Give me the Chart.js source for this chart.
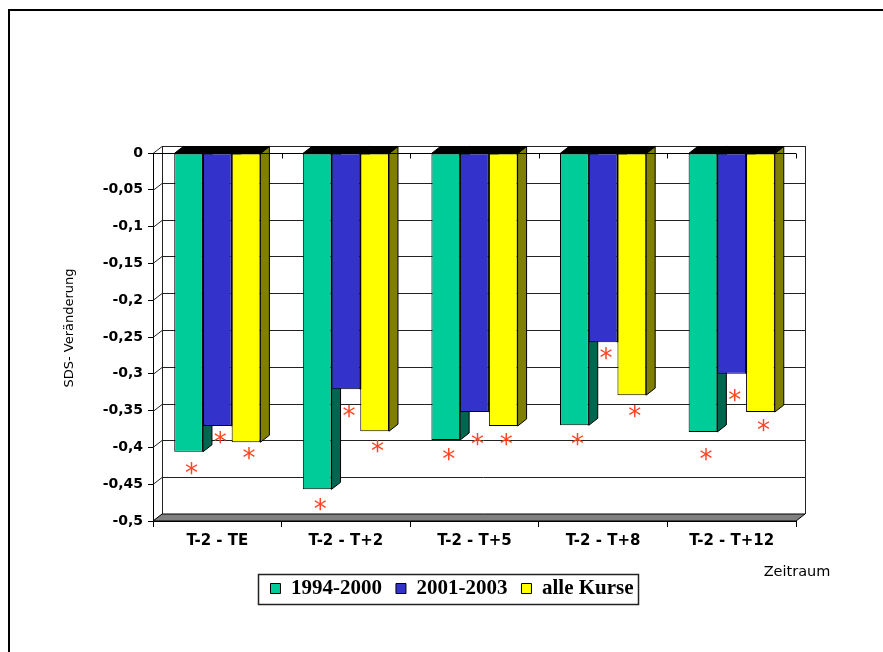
<!DOCTYPE html>
<html>
<head>
<meta charset="utf-8">
<title>SDS-Veränderung</title>
<script src="https://cdn.jsdelivr.net/npm/chart.js@4.4.1/dist/chart.umd.min.js"></script>
<style>
  html, body { margin: 0; padding: 0; background: #fff; }
  canvas { display: block; }
</style>
</head>
<body>
<canvas id="sdsChart" width="883" height="652"></canvas>
<script>
// categories and series
const categories = ['T-2 - TE', 'T-2 - T+2', 'T-2 - T+5', 'T-2 - T+8', 'T-2 - T+12'];
const seriesNames = ['1994-2000', '2001-2003', 'alle Kurse'];
const values1994 = [-0.406, -0.457, -0.390, -0.370, -0.379];
const values2001 = [-0.371, -0.321, -0.352, -0.257, -0.300];
const valuesAll = [-0.393, -0.378, -0.371, -0.329, -0.352];
// where the significance stars (*) sit, in axis units
const stars1994 = [-0.428, -0.477, -0.409, -0.389, -0.409];
const stars2001 = [-0.387, -0.351, -0.389, -0.272, -0.330];
const starsAll = [-0.408, -0.399, -0.389, -0.351, -0.370];

const frontColors = ['#00CC99', '#3333CC', '#FFFF00'];
const sideColors = ['#006650', '#1a1a66', '#808000'];
const DX = 9, DY = 7; // depth of the 3d look

// Function to format tick values the German way
function fmt(v) {
    return String(Math.round(v * 100) / 100).replace('.', ',');
}

// Plugin that draws walls, floor and the 3d faces of the bars
const threeD = {
    id: 'threeD',
    beforeDatasetsDraw(chart) {
        const ctx = chart.ctx;
        const y = chart.scales.y;
        const a = chart.chartArea;
        ctx.save();
        ctx.lineWidth = 1;
        ctx.strokeStyle = '#222';
        // back wall grid lines and left wall diagonals
        y.ticks.forEach(t => {
            const py = Math.round(y.getPixelForValue(t.value)) + 0.5;
            ctx.beginPath();
            ctx.moveTo(a.left, py);
            ctx.lineTo(a.left + DX, py - DY);
            ctx.lineTo(a.right + DX, py - DY);
            ctx.stroke();
        });
        // back wall edges
        ctx.beginPath();
        ctx.moveTo(a.left + DX + 0.5, a.top - DY);
        ctx.lineTo(a.left + DX + 0.5, a.bottom - DY);
        ctx.moveTo(a.right + DX + 0.5, a.top - DY);
        ctx.lineTo(a.right + DX + 0.5, a.bottom - DY);
        ctx.stroke();
        // floor
        ctx.beginPath();
        ctx.moveTo(a.left, a.bottom);
        ctx.lineTo(a.left + DX, a.bottom - DY);
        ctx.lineTo(a.right + DX, a.bottom - DY);
        ctx.lineTo(a.right, a.bottom);
        ctx.closePath();
        ctx.fillStyle = '#808080';
        ctx.fill();
        ctx.strokeStyle = '#000';
        ctx.stroke();
        // side and top faces of every bar
        chart.data.datasets.forEach((ds, di) => {
            chart.getDatasetMeta(di).data.forEach(bar => {
                const p = bar.getProps(['x', 'y', 'base', 'width']);
                const left = p.x - p.width / 2, right = p.x + p.width / 2;
                const top = Math.min(p.y, p.base), bottom = Math.max(p.y, p.base);
                ctx.beginPath();
                ctx.moveTo(right, top);
                ctx.lineTo(right + DX, top - DY);
                ctx.lineTo(right + DX, bottom - DY);
                ctx.lineTo(right, bottom);
                ctx.closePath();
                ctx.fillStyle = sideColors[di];
                ctx.fill();
                ctx.stroke();
                ctx.beginPath();
                ctx.moveTo(left, top);
                ctx.lineTo(left + DX, top - DY);
                ctx.lineTo(right + DX, top - DY);
                ctx.lineTo(right, top);
                ctx.closePath();
                ctx.fillStyle = '#000';
                ctx.fill();
                ctx.stroke();
            });
        });
        ctx.restore();
    },
    afterDatasetsDraw(chart) {
        const ctx = chart.ctx;
        const y = chart.scales.y;
        const a = chart.chartArea;
        ctx.save();
        // category axis line at zero with its little ticks
        const y0 = Math.round(y.getPixelForValue(0)) + 0.5;
        ctx.strokeStyle = '#000';
        ctx.lineWidth = 1;
        ctx.beginPath();
        ctx.moveTo(a.left, y0);
        ctx.lineTo(a.right, y0);
        for (let i = 0; i <= categories.length; i++) {
            const px = Math.round(a.left + i * (a.right - a.left) / categories.length) + 0.5;
            ctx.moveTo(px, y0);
            ctx.lineTo(px, y0 + 5);
        }
        ctx.stroke();
        // stars
        const stars = [stars1994, stars2001, starsAll];
        ctx.fillStyle = '#ff4422';
        ctx.font = '26px "DejaVu Sans"';
        ctx.textAlign = 'center';
        ctx.textBaseline = 'alphabetic';
        const m = ctx.measureText('*');
        const mid = (m.actualBoundingBoxAscent - m.actualBoundingBoxDescent) / 2;
        stars.forEach((list, di) => {
            const meta = chart.getDatasetMeta(di);
            list.forEach((v, i) => {
                const bar = meta.data[i];
                ctx.fillText('*', bar.x + 3, y.getPixelForValue(v) + mid);
            });
        });
        ctx.restore();
    },
    afterDraw(chart) {
        const ctx = chart.ctx;
        ctx.save();
        // outer frame
        ctx.strokeStyle = '#000';
        ctx.lineWidth = 2;
        ctx.beginPath();
        ctx.moveTo(9, 652);
        ctx.lineTo(9, 10);
        ctx.lineTo(883, 10);
        ctx.stroke();
        // legend frame
        const hb = chart.legend.legendHitBoxes;
        if (hb && hb.length) {
            const last = hb[hb.length - 1];
            const l = hb[0].left - 12, r = last.left + last.width + 5;
            const t = hb[0].top - 4;
            ctx.lineWidth = 1.5;
            ctx.strokeStyle = '#222';
            ctx.strokeRect(Math.round(l) + 0.5, Math.round(t) + 0.5, Math.round(r - l), 30);
        }
        // axis titles
        ctx.fillStyle = '#000';
        ctx.font = '13px "DejaVu Sans"';
        ctx.textAlign = 'center';
        ctx.textBaseline = 'middle';
        ctx.translate(70, 328);
        ctx.rotate(-Math.PI / 2);
        ctx.fillText('SDS- Veränderung', 0, 0);
        ctx.setTransform(1, 0, 0, 1, 0, 0);
        ctx.font = '14.5px "DejaVu Sans"';
        ctx.fillText('Zeitraum', 797, 572);
        ctx.restore();
    }
};

const datasets = [values1994, values2001, valuesAll].map((vals, i) => ({
    label: seriesNames[i],
    data: vals,
    backgroundColor: frontColors[i],
    borderColor: '#000',
    borderWidth: 1,
    borderSkipped: false,
    categoryPercentage: 0.67,
    barPercentage: 1.0
}));

new Chart(document.getElementById('sdsChart'), {
    type: 'bar',
    data: { labels: categories, datasets: datasets },
    options: {
        responsive: false,
        animation: false,
        layout: { padding: { top: 153, left: 21, right: 0, bottom: 43 } },
        plugins: {
            tooltip: { enabled: false },
            legend: {
                position: 'bottom',
                labels: {
                    boxWidth: 10,
                    boxHeight: 10,
                    padding: 14,
                    color: '#000',
                    font: { family: "'Liberation Serif', 'Times New Roman', serif", size: 21, weight: 'bold' }
                }
            }
        },
        scales: {
            x: {
                afterFit: s => { s.height = 43; },
                grid: { display: true, drawOnChartArea: false, drawTicks: true, tickLength: 6, color: '#000' },
                border: { display: true, color: '#000' },
                ticks: {
                    color: '#000',
                    padding: 5,
                    maxRotation: 0,
                    font: { family: '"DejaVu Sans"', size: 15, weight: 'bold' }
                }
            },
            y: {
                min: -0.5,
                max: 0,
                afterFit: s => { s.width = 132; },
                grid: { display: true, drawOnChartArea: false, drawTicks: true, tickLength: 5, color: '#000' },
                border: { display: true, color: '#000' },
                ticks: {
                    stepSize: 0.05,
                    color: '#000',
                    padding: 5,
                    font: { family: '"DejaVu Sans"', size: 14, weight: 'bold' },
                    callback: v => fmt(v)
                }
            },
            yRight: {
                type: 'linear',
                position: 'right',
                display: true,
                afterFit: s => { s.width = 87; },
                grid: { display: false },
                border: { display: false },
                ticks: { display: false }
            }
        }
    },
    plugins: [threeD]
});
</script>
</body>
</html>
